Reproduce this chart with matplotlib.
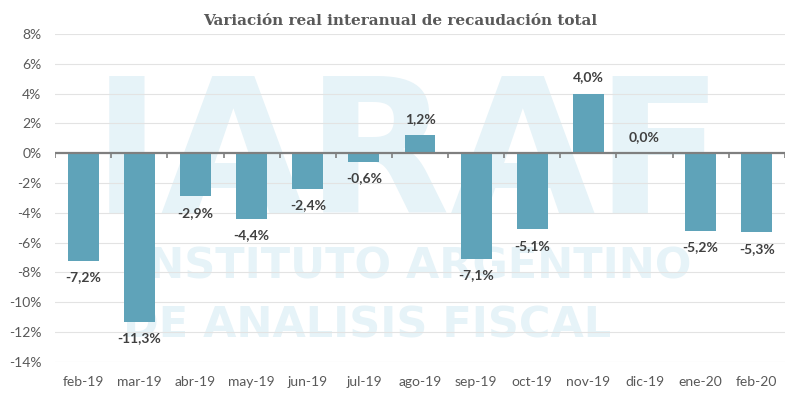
import numpy as np
import matplotlib.pyplot as plt

meses = ["feb-19", "mar-19", "abr-19", "may-19", "jun-19", "jul-19", "ago-19",
         "sep-19", "oct-19", "nov-19", "dic-19", "ene-20", "feb-20"]
variacion = [-7.2, -11.3, -2.9, -4.4, -2.4, -0.6, 1.2, -7.1, -5.1, 4.0, 0.0, -5.2, -5.3]
yticks = list(range(-14, 9, 2))

barColor = "#5fa3b9"
txtColor = "#595959"

fig = plt.figure(figsize=(8, 3.99), dpi=100)
ax = fig.add_axes([0.069, 0.093, 0.912, 0.822])

# marca de agua (detras de todo)
wm = "#e6f3f8"
ax.text(0.51, 0.595, "IARAF", ha="center", va="center", fontsize=135,
        fontweight="bold", color=wm, family="DejaVu Sans", zorder=0,
        transform=fig.transFigure)
ax.text(0.515, 0.333, "INSTITUTO ARGENTINO", ha="center", va="center", fontsize=31,
        fontweight="bold", color=wm, family="DejaVu Sans", zorder=0,
        transform=fig.transFigure)
ax.text(0.459, 0.185, "DE ANALISIS FISCAL", ha="center", va="center", fontsize=31,
        fontweight="bold", color=wm, family="DejaVu Sans", zorder=0,
        transform=fig.transFigure)

x = np.arange(len(meses))
ax.bar(x, variacion, width=0.55, color=barColor, zorder=3)

for xi, v in zip(x, variacion):
	lbl = ("%.1f%%" % v).replace(".", ",")
	if v >= 0:
		ax.text(xi, v + 0.7, lbl, ha="center", va="bottom", fontsize=10,
		        color="#404040", family="Lato", fontweight="bold", zorder=4)
	else:
		ax.text(xi, v - 0.7, lbl, ha="center", va="top", fontsize=10,
		        color="#404040", family="Lato", fontweight="bold", zorder=4)

ax.set_xlim(-0.5, len(meses) - 0.5)
ax.set_ylim(-14, 8)
ax.set_yticks(yticks)
ax.set_yticklabels(["%d%%" % t for t in yticks])
ax.set_xticks(x)
ax.set_xticklabels(meses)
ax.tick_params(length=0, labelsize=10, labelcolor=txtColor, pad=10)
for lab in ax.get_xticklabels() + ax.get_yticklabels():
	lab.set_family("Lato")
ax.grid(axis="y", color="#e3e3e3", linewidth=0.8, zorder=1)
for s in ax.spines.values():
	s.set_visible(False)

# eje en cero con marcas entre categorias
ax.axhline(0, color="#7f7f7f", linewidth=1.6, zorder=4)
bordes = np.arange(len(meses) + 1) - 0.5
ax.vlines(bordes, -0.3, 0, color="#7f7f7f", linewidth=1.2, zorder=4)

fig.text(0.5, 0.948, "Variación real interanual de recaudación total", ha="center",
         va="center", fontsize=11, fontweight="bold", color=txtColor,
         family="DejaVu Serif")

plt.savefig("out.png", dpi=100)
